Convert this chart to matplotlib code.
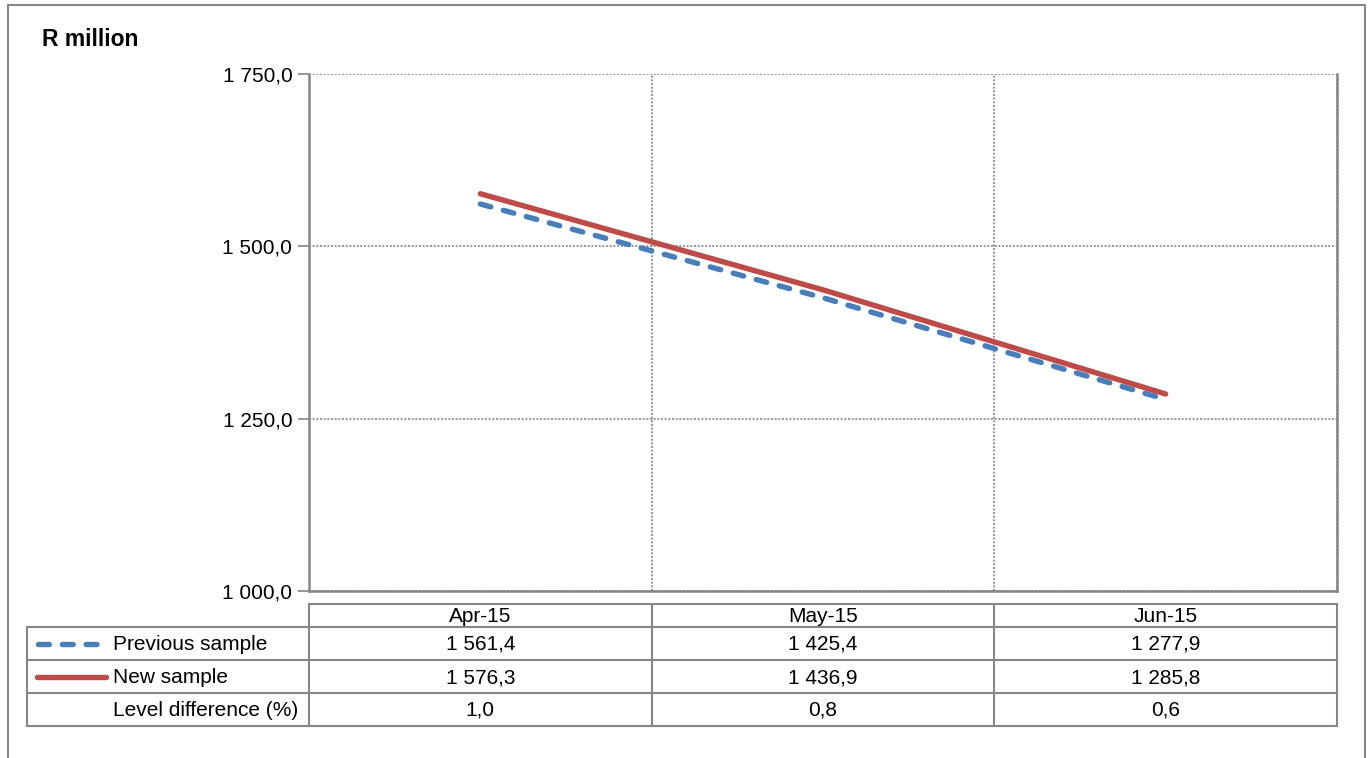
import numpy as np
import matplotlib
matplotlib.use("Agg")
import matplotlib.pyplot as plt
from matplotlib.ticker import FuncFormatter, FixedLocator
from matplotlib.transforms import blended_transform_factory

# monthly values, R million
months = ["Apr-15", "May-15", "Jun-15"]
previous_sample = [1561.4, 1425.4, 1277.9]
new_sample = [1576.3, 1436.9, 1285.8]
row_labels = ["Previous sample", "New sample", "Level difference (%)"]

level_diff = [(n / p - 1) * 100 for n, p in zip(new_sample, previous_sample)]

BLUE = "#4A7EBB"
RED = "#BE4B48"
GREY = "#868686"

plt.rcParams["font.family"] = ["Liberation Sans", "DejaVu Sans"]


def fmt(v, pos=None):
    return f"{v:,.1f}".replace(",", " ").replace(".", ",")


fig = plt.figure(figsize=(13.7, 7.58), dpi=100)

# pixel-space overlay for the frame and data table
over = fig.add_axes([0, 0, 1, 1])
over.set_xlim(0, 1370)
over.set_ylim(758, 0)
over.axis("off")
over.plot([8, 8, 1365, 1365], [770, 5, 5, 770], color=GREY, lw=1.5, clip_on=False)

ax = fig.add_axes([309 / 1370, 1 - 591 / 758, (1337 - 309) / 1370, (591 - 74) / 758])
ax.set_facecolor("none")
x = np.arange(len(months))

LW = 3.9
ax.plot(x, previous_sample, color=BLUE, lw=LW, dashes=(2.0, 2.4),
        dash_capstyle="round", solid_capstyle="round", zorder=3)
ax.plot(x, new_sample, color=RED, lw=LW, solid_capstyle="round", zorder=4)

ax.set_xlim(-0.5, len(months) - 0.5)
ax.set_ylim(1000, 1750)
ax.yaxis.set_major_locator(FixedLocator([1000, 1250, 1500, 1750]))
ax.yaxis.set_major_formatter(FuncFormatter(fmt))
ax.xaxis.set_major_locator(FixedLocator(np.arange(len(months) + 1) - 0.5))
ax.set_xticklabels([])
ax.tick_params(axis="x", length=0)
ax.tick_params(axis="y", length=8, width=1.2, color=GREY, labelsize=15, pad=4)
ax.grid(True, color=GREY, lw=1.2, ls=(0, (1.2, 1.0)))
for side in ["left", "right", "bottom"]:
    ax.spines[side].set_color(GREY)
    ax.spines[side].set_linewidth(1.8)
ax.spines["top"].set_visible(False)

# data table below the axis, columns aligned with the categories
tr = blended_transform_factory(ax.transData, over.transData)
edges = np.arange(len(months) + 1) - 0.5
head_top, head_bot = 604, 627
row_h = 33
rows_bot = head_bot + row_h * len(row_labels)
lkw = dict(color=GREY, lw=1.5, transform=tr, clip_on=False)

over.plot([edges[0], edges[-1]], [head_top, head_top], **lkw)
for xe in edges:
    over.plot([xe, xe], [head_top, rows_bot], **lkw)
for i in range(len(row_labels) + 1):
    yy = head_bot + i * row_h
    over.plot([27, 309], [yy, yy], color=GREY, lw=1.5)
    over.plot([edges[0], edges[-1]], [yy, yy], **lkw)
over.plot([27, 27], [head_bot, rows_bot], color=GREY, lw=1.5)

tkw = dict(ha="center", va="center", fontsize=15, transform=tr)
for i, m in enumerate(months):
    over.text(i, (head_top + head_bot) / 2 + 1, m, **tkw)
table_rows = [previous_sample, new_sample, level_diff]
for r, vals in enumerate(table_rows):
    yc = head_bot + row_h * (r + 0.5) + 1
    for i, v in enumerate(vals):
        over.text(i, yc, fmt(v), **tkw)
    over.text(113, yc, row_labels[r], ha="left", va="center", fontsize=15)

# legend keys inside the row label cells
yk = head_bot + row_h * 0.5
over.plot([38, 102], [yk, yk], color=BLUE, lw=LW, dashes=(2.0, 2.4), dash_capstyle="round")
yk = head_bot + row_h * 1.5
over.plot([37, 106], [yk, yk], color=RED, lw=LW, solid_capstyle="round")

fig.text(42 / 1370, 1 - 40 / 758, "R million", fontsize=16.5, fontweight="bold",
         ha="left", va="center")

fig.savefig("out.png", dpi=100)
